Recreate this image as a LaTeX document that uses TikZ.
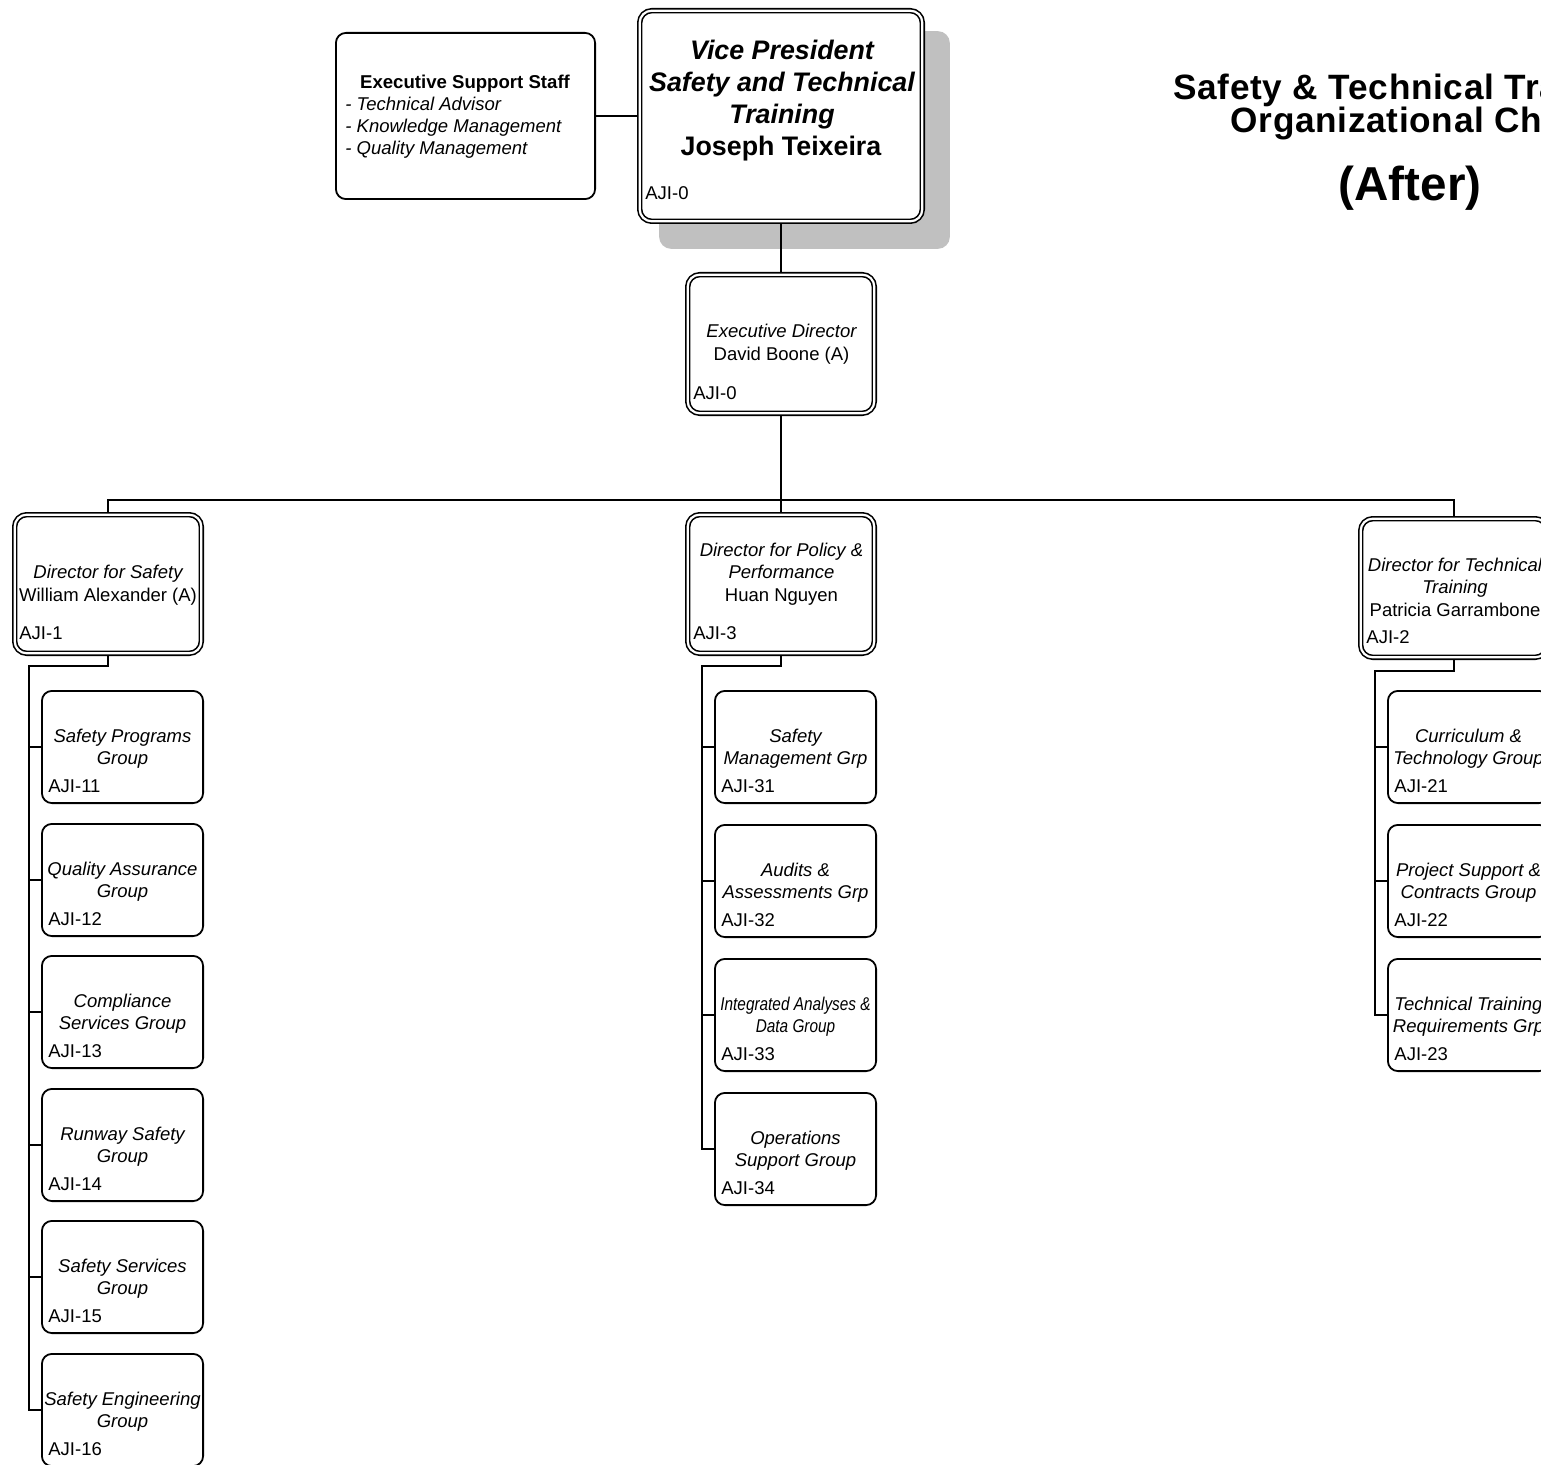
\documentclass[tikz,border=0pt]{standalone}
\usepackage{fontspec}
\setmainfont{Liberation Sans}
\newfontfamily\narrowsans[FakeStretch=0.83]{Liberation Sans}
\newfontfamily\titlefont[LetterSpace=2]{Liberation Sans}
\usetikzlibrary{calc}
\pgfdeclarelayer{shadowlayer}
\pgfdeclarelayer{background}
\pgfsetlayers{shadowlayer,background,main}
\definecolor{shadowgray}{HTML}{C0C0C0}
\newcommand\mkchild[6]{%
  \node[cbox] (#1) at (#2,#3+57) {};
  \node[ti] (#1-a) at (#2,#3+52) {#4};
  \node[ti] (#1-b) at (#2,#3+74) {#5};
  \node[tx,anchor=base west] (#1-c) at (#2-74.5,#3+102) {#6};
}
\begin{document}
\begin{tikzpicture}[x=0.5pt,y=-0.5pt,
  conn/.style={line width=1pt},
  cbox/.style={draw,line width=0.9pt,rounded corners=5pt,fill=white,minimum width=80.6pt,minimum height=56.1pt,inner sep=0pt},
  essbox/.style={draw,line width=0.9pt,rounded corners=5pt,fill=white,minimum width=129.6pt,minimum height=83.1pt,inner sep=0pt},
  dbox/.style={draw,double,line width=0.8pt,double distance=1.1pt,rounded corners=6pt,fill=white,inner sep=0pt},
  dirbox/.style={dbox,minimum width=93.3pt,minimum height=69.3pt},
  vpbox/.style={dbox,minimum width=141.3pt,minimum height=105.3pt},
  tx/.style={anchor=base,inner sep=0pt,font=\fontsize{9.25}{11}\selectfont},
  ti/.style={tx,font=\fontsize{9.25}{11}\selectfont\itshape},
  vpt/.style={anchor=base,inner sep=0pt,font=\fontsize{13.4}{16}\selectfont\bfseries\itshape},
  ttl/.style={anchor=base,inner sep=0pt,text depth=0pt,font=\titlefont\fontsize{17.6}{20}\selectfont\bfseries}]
\useasboundingbox (0,0) rectangle (1541,1465);
\clip (0,0) rectangle (1541,1465);

% title
\node[ttl] (title1) at (1410,100) {Safety \& Technical Training};
\node[ttl,text height=11.5pt] (title2) at (1410,133) {Organizational Chart};
\node[ttl,font=\fontsize{23.8}{28}\selectfont\bfseries] (title3) at (1410,201) {(After)};

% top level
\node[vpbox] (vp) at (781,116) {};
\begin{pgfonlayer}{shadowlayer}
  \fill[shadowgray,rounded corners=6pt] ($(vp.south west)+(20.25,26.75)$) rectangle ($(vp.north east)+(26.75,21.25)$);
\end{pgfonlayer}
\node[vpt] (vp-a) at (782,60) {Vice President};
\node[vpt] (vp-b) at (782,92) {Safety and Technical};
\node[vpt] (vp-c) at (782,124) {Training};
\node[vpt,font=\fontsize{13.4}{16}\selectfont\bfseries] (vp-d) at (781,156) {Joseph Teixeira};
\node[tx,anchor=base west] (vp-e) at (645,200) {AJI-0};

\node[essbox] (ess) at (465.5,116) {};
\node[tx,font=\fontsize{9.3}{11}\selectfont\bfseries] (ess-a) at (465,89) {Executive Support Staff};
\node[ti,anchor=base west] (ess-b) at (345,111) {- Technical Advisor};
\node[ti,anchor=base west] (ess-c) at (345,133) {- Knowledge Management};
\node[ti,anchor=base west] (ess-d) at (345,155) {- Quality Management};

\node[dirbox] (ed) at (781,344) {};
\node[ti] (ed-a) at (781.5,338) {Executive Director};
\node[tx] (ed-b) at (781.5,361) {David Boone (A)};
\node[tx,anchor=base west] (ed-c) at (693,400) {AJI-0};

% directors
\node[dirbox] (ds) at (108,584) {};
\node[ti] (ds-a) at (108,578) {Director for Safety};
\node[tx] (ds-b) at (108,601) {William Alexander (A)};
\node[tx,anchor=base west] (ds-c) at (19,639) {AJI-1};

\node[dirbox] (dp) at (781,584) {};
\node[ti] (dp-a) at (781.5,556) {Director for Policy \&};
\node[ti] (dp-b) at (781.5,578) {Performance};
\node[tx] (dp-c) at (781.5,601) {Huan Nguyen};
\node[tx,anchor=base west] (dp-d) at (693,639) {AJI-3};

\node[dirbox] (dt) at (1454,588) {};
\node[ti] (dt-a) at (1455,571) {Director for Technical};
\node[ti] (dt-b) at (1455,593) {Training};
\node[tx] (dt-c) at (1455,616) {Patricia Garrambone};
\node[tx,anchor=base west] (dt-d) at (1366,643) {AJI-2};

% children left
\mkchild{c11}{122.5}{690}{Safety Programs}{Group}{AJI-11}
\mkchild{c12}{122.5}{823}{Quality Assurance}{Group}{AJI-12}
\mkchild{c13}{122.5}{955}{Compliance}{Services Group}{AJI-13}
\mkchild{c14}{122.5}{1088}{Runway Safety}{Group}{AJI-14}
\mkchild{c15}{122.5}{1220}{Safety Services}{Group}{AJI-15}
\mkchild{c16}{122.5}{1353}{Safety Engineering}{Group}{AJI-16}
% children middle
\mkchild{c31}{795.5}{690}{Safety}{Management Grp}{AJI-31}
\mkchild{c32}{795.5}{824}{Audits \&}{Assessments Grp}{AJI-32}
\mkchild{c33}{795.5}{958}{\narrowsans Integrated Analyses \&}{\narrowsans Data Group}{AJI-33}
\mkchild{c34}{795.5}{1092}{Operations}{Support Group}{AJI-34}
% children right
\mkchild{c21}{1468.5}{690}{Curriculum \&}{Technology Group}{AJI-21}
\mkchild{c22}{1468.5}{824}{Project Support \&}{Contracts Group}{AJI-22}
\mkchild{c23}{1468.5}{958}{Technical Training}{Requirements Grp}{AJI-23}

% connectors
\coordinate (bus) at (781,500);
\coordinate (sl) at (29,666);
\coordinate (ml) at (702,666);
\coordinate (rl) at (1375,671);
\begin{pgfonlayer}{background}
\draw[conn] (ess.east) -- (vp.west);
\draw[conn] (vp.south) -- (vp.south |- ed.north);
\draw[conn] (ed.south) -- (ed.south |- bus) -| (ds.north);
\draw[conn] (ed.south |- bus) -| (dt.north);
\draw[conn] (ed.south) -- (ed.south |- dp.north);
\draw[conn] (ds.south) |- (sl) -- (sl |- c16.west) -- (c16.west);
\foreach \c in {c11,c12,c13,c14,c15} \draw[conn] (sl |- \c.west) -- (\c.west);
\draw[conn] (dp.south) |- (ml) -- (ml |- c34.west) -- (c34.west);
\foreach \c in {c31,c32,c33} \draw[conn] (ml |- \c.west) -- (\c.west);
\draw[conn] (dt.south) |- (rl) -- (rl |- c23.west) -- (c23.west);
\foreach \c in {c21,c22} \draw[conn] (rl |- \c.west) -- (\c.west);
\end{pgfonlayer}
\end{tikzpicture}
\end{document}
